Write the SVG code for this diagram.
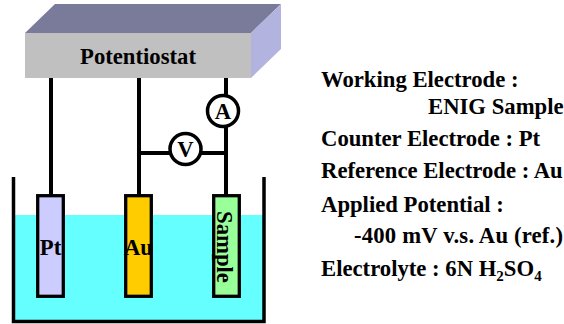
<svg xmlns="http://www.w3.org/2000/svg" width="564" height="324" viewBox="0 0 564 324">
<style>
text{font-family:"Liberation Serif","Times New Roman",serif;font-weight:bold;fill:#000;font-size:22.700px}
.m{fill:#fff;stroke:#000;stroke-width:3.500}
.e{stroke:#000;stroke-width:3.300}
.c{text-anchor:middle}
</style>
<rect width="564" height="324" fill="#fff"/>
<g id="bath">
<rect x="14" y="215" width="250" height="106" fill="#66ffff"/>
<path d="M13.500 177V321.500H264V177" fill="none" stroke="#000" stroke-width="3.500"/>
</g>
<g id="connectors">
<path d="M51 78V196M139 78V196M226 78V196M139 153H226" fill="none" stroke="#000" stroke-width="4"/>
</g>
<g id="potentiostat">
<polygon points="25,33 55,4 281,4 251,33" fill="#7a7a9a"/>
<polygon points="251,33 281,4 281,49 251,78" fill="#b3b3e0"/>
<rect x="25" y="33" width="226" height="45" fill="#c0c0c0"/>
<text class="c" x="138" y="64">Potentiostat</text>
</g>
<g id="ammeter">
<circle class="m" cx="223" cy="111" r="15.500"/>
<text class="c" x="223" y="119">A</text>
</g>
<g id="voltmeter">
<circle class="m" cx="185.500" cy="149" r="15.500"/>
<text class="c" x="185.500" y="157">V</text>
</g>
<g id="pt">
<rect class="e" x="37.700" y="195.700" width="25.600" height="100.600" fill="#ccccff"/>
<text class="c" x="50.500" y="255">Pt</text>
</g>
<g id="au">
<rect class="e" x="125.700" y="195.700" width="25.600" height="100.600" fill="#ffcc00"/>
<text class="c" x="138.500" y="255">Au</text>
</g>
<g id="sample">
<rect class="e" x="213.700" y="195.700" width="25.600" height="100.600" fill="#99ff99"/>
<text class="c" transform="translate(217 247) rotate(90)">Sample</text>
</g>
<g id="legend">
<text x="321" y="87">Working Electrode :</text>
<text x="428" y="114">ENIG Sample</text>
<text x="321" y="146">Counter Electrode : Pt</text>
<text x="321" y="178">Reference Electrode : Au</text>
<text x="321" y="212">Applied Potential :</text>
<text x="354" y="243" letter-spacing="0.180">-400 mV v.s. Au (ref.)</text>
<text x="321" y="276">Electrolyte : 6N H<tspan font-size="15" dy="5">2</tspan><tspan dy="-5">SO</tspan><tspan font-size="15" dy="5">4</tspan></text>
</g>
</svg>
